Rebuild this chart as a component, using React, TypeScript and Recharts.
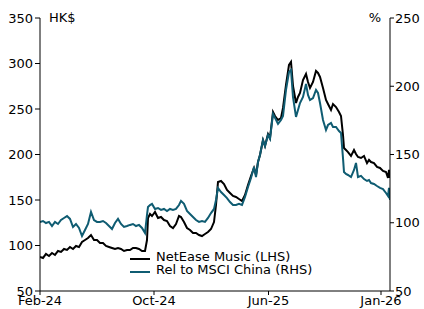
import React from 'react';
import { LineChart, Line, XAxis, YAxis, Legend } from 'recharts';

// Position along the time axis (sample index, Feb-24 = 0)
const days: number[] = [
  0, 3, 6, 9, 12, 15, 18, 21, 24, 27, 30, 33, 36, 39, 42, 45, 48, 51, 54, 57,
  60, 63, 66, 69, 72, 75, 78, 81, 84, 87, 90, 93, 96, 99, 102, 105, 107, 108, 110, 112,
  115, 118, 121, 124, 127, 130, 133, 136, 139, 141, 144, 147, 150, 153, 156, 159, 162, 165, 168, 171,
  174, 176, 178, 181, 184, 187, 190, 193, 196, 199, 202, 205, 208, 211, 214, 216, 218, 220, 223, 225,
  228, 230, 233, 235, 238, 241, 243, 246, 249, 251, 253, 256, 258, 260, 263, 266, 268, 270, 273, 276,
  278, 280, 283, 286, 288, 291, 293, 296, 299, 301, 303, 304, 306, 308, 311, 314, 316, 318, 321, 324,
  327, 329, 331, 334, 337, 340, 343, 346, 348, 349, 350,
];

// NetEase Music share price, HK$ (LHS)
const price: number[] = [
  87.4, 86.3, 90.7, 88.5, 91.8, 89.6, 94.0, 92.9, 96.2, 95.1, 98.4, 96.2, 99.5, 98.4, 103.8, 106.0, 108.2, 111.5, 106.0, 106.0,
  102.7, 102.7, 99.5, 98.4, 97.3, 96.2, 97.3, 96.2, 94.0, 95.1, 95.1, 97.3, 97.3, 96.2, 94.0, 94.0, 106.0, 130.2, 134.6, 132.4,
  136.8, 130.2, 131.3, 128.0, 126.9, 121.4, 119.2, 123.6, 132.4, 131.3, 125.8, 119.2, 117.0, 113.7, 113.7, 111.5, 110.4, 112.6, 114.8, 118.1,
  125.8, 144.5, 169.8, 170.9, 167.6, 161.0, 157.7, 154.4, 153.3, 151.1, 148.9, 155.5, 166.5, 176.4, 185.2, 177.5, 191.7, 199.5, 215.9, 209.3,
  222.5, 218.1, 246.7, 242.3, 237.9, 240.1, 251.1, 276.4, 298.4, 301.7, 275.3, 256.6, 263.2, 267.6, 281.9, 288.5, 279.7, 273.1, 279.7, 291.8,
  289.6, 285.2, 273.1, 259.9, 255.5, 248.9, 255.5, 252.2, 246.7, 242.3, 221.4, 207.1, 204.9, 202.7, 198.4, 204.9, 200.6, 197.3, 196.2, 198.4,
  190.6, 194.0, 191.7, 190.6, 186.3, 185.2, 181.9, 180.8, 174.2, 183.0, 174.2,
];

// Relative performance vs MSCI China, % (RHS)
const relative: number[] = [
  100.6, 101.3, 99.8, 100.6, 97.6, 100.6, 99.1, 102.0, 103.5, 104.9, 102.8, 96.9, 99.1, 96.2, 90.3, 94.7, 99.1, 107.9, 102.0, 100.6,
  100.6, 101.3, 99.8, 97.6, 95.4, 99.8, 102.8, 99.1, 96.9, 97.6, 98.4, 99.1, 97.6, 98.4, 96.2, 92.5, 105.7, 111.5, 113.0, 113.8,
  110.1, 110.8, 109.4, 110.1, 108.6, 110.1, 109.4, 110.1, 113.0, 116.0, 113.8, 108.6, 106.4, 104.2, 102.0, 100.6, 101.3, 100.6, 103.5, 107.1,
  110.1, 116.7, 125.5, 122.5, 120.3, 118.1, 115.2, 113.0, 113.0, 113.8, 113.0, 118.9, 126.2, 132.8, 140.9, 133.5, 144.5, 149.6, 160.6, 156.2,
  164.3, 161.4, 179.7, 176.8, 172.4, 175.3, 178.2, 197.3, 210.4, 211.9, 192.1, 177.5, 182.6, 187.7, 192.1, 201.7, 193.6, 189.9, 191.4, 197.3,
  195.1, 187.7, 175.3, 168.0, 171.6, 173.1, 170.2, 170.2, 167.2, 165.8, 147.4, 137.2, 135.7, 135.0, 133.5, 138.7, 143.8, 133.5, 134.3, 132.0,
  130.6, 131.3, 129.1, 128.4, 126.9, 125.5, 124.7, 121.8, 119.6, 125.5, 116.7,
];

const xTickPos: number[] = [0, 114, 228.5, 341];
const xTickLabels: string[] = ['Feb-24', 'Oct-24', 'Jun-25', 'Jan-26'];
const leftTicks: number[] = [50, 100, 150, 200, 250, 300, 350];
const rightTicks: number[] = [50, 100, 150, 200, 250];

const seriesNames = ['NetEase Music (LHS)', 'Rel to MSCI China (RHS)'];
const BLACK = '#000000';
const TEAL = '#0f5c72';
const FONT = "'DejaVu Sans', Verdana, sans-serif";

const data = days.map((d, i) => ({ x: d, price: price[i], rel: relative[i] }));

const tickStyle = { fontSize: 13, fill: '#000', fontFamily: FONT };

const LegendBox = () => (
  <svg width={200} height={32} style={{ display: 'block' }}>
    <line x1={2} y1={13} x2={22} y2={13} stroke={BLACK} strokeWidth={2} />
    <text x={28} y={15} fontSize={13} fontFamily={FONT} fill="#000">{seriesNames[0]}</text>
    <line x1={2} y1={26} x2={22} y2={26} stroke={TEAL} strokeWidth={2} />
    <text x={28} y={28} fontSize={13} fontFamily={FONT} fill="#000">{seriesNames[1]}</text>
  </svg>
);

export default function App() {
  return (
    <div style={{ position: 'absolute', left: 0, top: 0, width: 424, height: 309, background: '#fff' }}>
      <LineChart width={424} height={309} data={data} margin={{ top: 18, right: 0, bottom: 0, left: 0 }}>
        <XAxis
          dataKey="x"
          type="number"
          domain={[0, 350]}
          ticks={xTickPos}
          tickFormatter={(v: number) => xTickLabels[xTickPos.indexOf(v)] ?? ''}
          height={18}
          tickSize={4}
          tickMargin={1}
          tick={tickStyle}
          axisLine={{ stroke: '#000' }}
          tickLine={{ stroke: '#000' }}
          interval={0}
          allowDataOverflow
        />
        <YAxis
          yAxisId="left"
          orientation="left"
          domain={[50, 350]}
          ticks={leftTicks}
          width={40}
          tickSize={5}
          tickMargin={2}
          tick={tickStyle}
          axisLine={{ stroke: '#000' }}
          tickLine={{ stroke: '#000' }}
          interval={0}
        />
        <YAxis
          yAxisId="right"
          orientation="right"
          domain={[50, 250]}
          ticks={rightTicks}
          width={34}
          tickSize={4}
          tickMargin={1}
          tick={tickStyle}
          axisLine={{ stroke: '#000' }}
          tickLine={{ stroke: '#000' }}
          interval={0}
        />
        <Legend
          layout="vertical"
          align="center"
          verticalAlign="middle"
          content={() => <LegendBox />}
          wrapperStyle={{ position: 'absolute', left: 128, top: 246, width: 200, height: 32 }}
        />
        <Line
          yAxisId="left"
          type="linear"
          dataKey="price"
          name={seriesNames[0]}
          stroke={BLACK}
          strokeWidth={2}
          dot={false}
          isAnimationActive={false}
        />
        <Line
          yAxisId="right"
          type="linear"
          dataKey="rel"
          name={seriesNames[1]}
          stroke={TEAL}
          strokeWidth={2}
          dot={false}
          isAnimationActive={false}
        />
      </LineChart>
      <div style={{ position: 'absolute', left: 49, top: 10, fontFamily: FONT, fontSize: 13, lineHeight: '15px', color: '#000' }}>HK$</div>
      <div style={{ position: 'absolute', right: 43, top: 10, fontFamily: FONT, fontSize: 13, lineHeight: '15px', color: '#000' }}>%</div>
    </div>
  );
}
